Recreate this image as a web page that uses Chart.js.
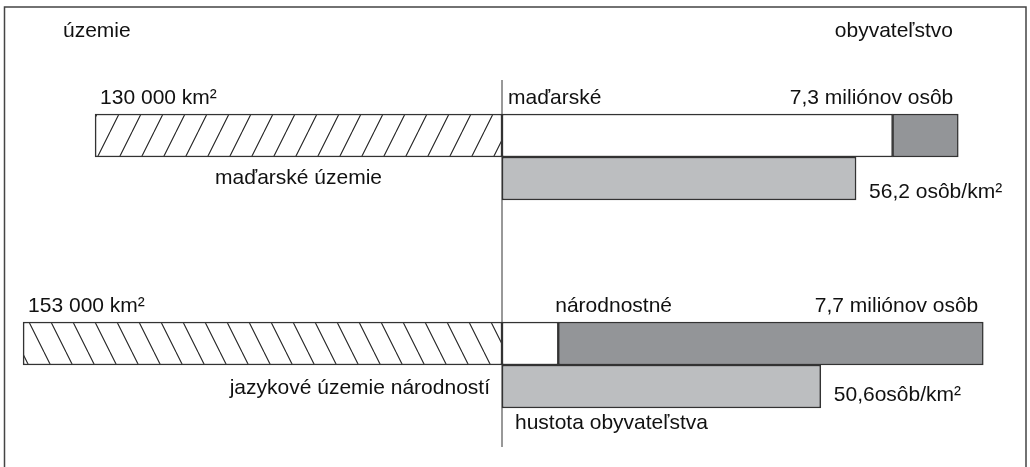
<!DOCTYPE html>
<html>
<head>
<meta charset="utf-8">
<script src="https://cdn.jsdelivr.net/npm/chart.js@4.4.1/dist/chart.umd.min.js"></script>
<style>
html, body { margin: 0; padding: 0; background: #fff; }
</style>
</head>
<body>
<canvas id="chart" width="1030" height="467"></canvas>
<script>
// --- DATA ---
const groups = ['maďarské', 'národnostné'];
const territoryNames = ['maďarské územie', 'jazykové územie národností'];
const areaThousandKm2 = [130, 153];
const areaLabels = ['130 000 km²', '153 000 km²'];
const popHungarian = [6.25, 0.9];      // millions, white part
const popNationalities = [1.05, 6.8];  // millions, dark part
const popLabels = ['7,3 miliónov osôb', '7,7 miliónov osôb'];
const density = [56.2, 50.6];          // persons per km2
const densityLabels = ['56,2 osôb/km²', '50,6osôb/km²'];

// --- LAYOUT ---
const W = 1030, H = 467;
const ZERO_X = 502;
const FONT = '21px "Liberation Sans", Arial, Helvetica, sans-serif';
const LINE = '#333';

// every value axis shares the same zero pixel, only the unit width differs
function axisRange(pxPerUnit) {
    return { min: -ZERO_X / pxPerUnit, max: (W - ZERO_X) / pxPerUnit };
}

function makeHatch(forward) {
    const c = document.createElement('canvas');
    c.width = 22; c.height = 44;
    const g = c.getContext('2d');
    g.fillStyle = '#fff';
    g.fillRect(0, 0, 22, 44);
    g.strokeStyle = '#222';
    g.lineWidth = 1.1;
    g.beginPath();
    for (const dx of [-22, 0, 22]) {
        if (forward) { g.moveTo(dx, 44); g.lineTo(dx + 22, 0); }
        else { g.moveTo(dx, 0); g.lineTo(dx + 22, 44); }
    }
    g.stroke();
    return g.createPattern(c, 'repeat');
}

// --- FRAME + CENTER LINE + TEXTS ---
const decorPlugin = {
    id: 'decor',
    beforeDatasetsDraw(chart) {
        const ctx = chart.ctx;
        const zx = chart.scales.xPop.getPixelForValue(0);
        ctx.save();
        ctx.strokeStyle = '#444';
        ctx.lineWidth = 1.5;
        ctx.beginPath();
        ctx.moveTo(4.5, H);
        ctx.lineTo(4.5, 7);
        ctx.lineTo(1026, 7);
        ctx.lineTo(1026, H);
        ctx.stroke();

        ctx.strokeStyle = LINE;
        ctx.lineWidth = 1;
        ctx.beginPath();
        ctx.moveTo(zx, 80);
        ctx.lineTo(zx, 447);
        ctx.stroke();
        ctx.restore();
    },
    afterDraw(chart) {
        const ctx = chart.ctx;
        const zx = chart.scales.xPop.getPixelForValue(0);
        const area = chart.getDatasetMeta(0).data;
        const hun = chart.getDatasetMeta(1).data;
        const nat = chart.getDatasetMeta(2).data;
        const dens = chart.getDatasetMeta(3).data;

        ctx.save();
        ctx.font = FONT;
        ctx.fillStyle = '#111';
        ctx.textBaseline = 'alphabetic';

        const text = (s, x, y, align) => {
            ctx.textAlign = align;
            ctx.fillText(s, x, y);
        };

        text('územie', 63, 37, 'left');
        text('obyvateľstvo', 953, 37, 'right');

        for (let i = 0; i < groups.length; i++) {
            const a = area[i], d = dens[i];
            const top = a.y - a.height / 2;
            text(areaLabels[i], a.x + 5, top - 10, 'left');
            text(popLabels[i], nat[i].x - 5, top - 10, 'right');
            text(densityLabels[i], d.x + 13, d.y + (i === 0 ? 19 : 14), 'left');
        }

        // group names above the population bars
        text(groups[0], zx + 6, area[0].y - area[0].height / 2 - 10, 'left');
        text(groups[1], hun[1].x - 3, area[1].y - area[1].height / 2 - 10, 'left');

        // territory names under the hatched bars
        text(territoryNames[0], (area[0].x + zx) / 2, area[0].y + area[0].height / 2 + 27, 'center');
        text(territoryNames[1], zx - 12, area[1].y + area[1].height / 2 + 29, 'right');

        const lastDens = dens[dens.length - 1];
        text('hustota obyvateľstva', zx + 13, lastDens.y + lastDens.height / 2 + 21, 'left');
        ctx.restore();
    }
};

// --- CHART ---
const common = { borderColor: LINE, borderWidth: 1.5, borderSkipped: false, clip: false, barThickness: 43 };

new Chart(document.getElementById('chart'), {
    type: 'bar',
    data: {
        labels: groups,
        datasets: [
            {
                ...common, label: 'územie', xAxisID: 'xArea', stack: 'top',
                data: areaThousandKm2.map(v => -v),
                backgroundColor: [makeHatch(true), makeHatch(false)]
            },
            {
                ...common, label: 'maďarské', xAxisID: 'xPop', stack: 'top',
                data: popHungarian, backgroundColor: '#ffffff'
            },
            {
                ...common, label: 'národnostné', xAxisID: 'xPop', stack: 'top',
                data: popNationalities, backgroundColor: '#939598'
            },
            {
                ...common, label: 'hustota', xAxisID: 'xDens', stack: 'bottom',
                data: density, backgroundColor: '#bcbec0'
            }
        ]
    },
    options: {
        indexAxis: 'y',
        responsive: false,
        animation: false,
        layout: { padding: { top: 157, bottom: H - 365, left: 0, right: 0 } },
        plugins: { legend: { display: false }, tooltip: { enabled: false } },
        scales: {
            y: { type: 'category', offset: false, display: false },
            xArea: { type: 'linear', axis: 'x', position: 'bottom', display: false, ...axisRange(3.13) },
            xPop: { type: 'linear', axis: 'x', position: 'bottom', display: false, stacked: true, ...axisRange(62.5) },
            xDens: { type: 'linear', axis: 'x', position: 'bottom', display: false, ...axisRange(6.3) }
        }
    },
    plugins: [decorPlugin]
});
</script>
</body>
</html>
